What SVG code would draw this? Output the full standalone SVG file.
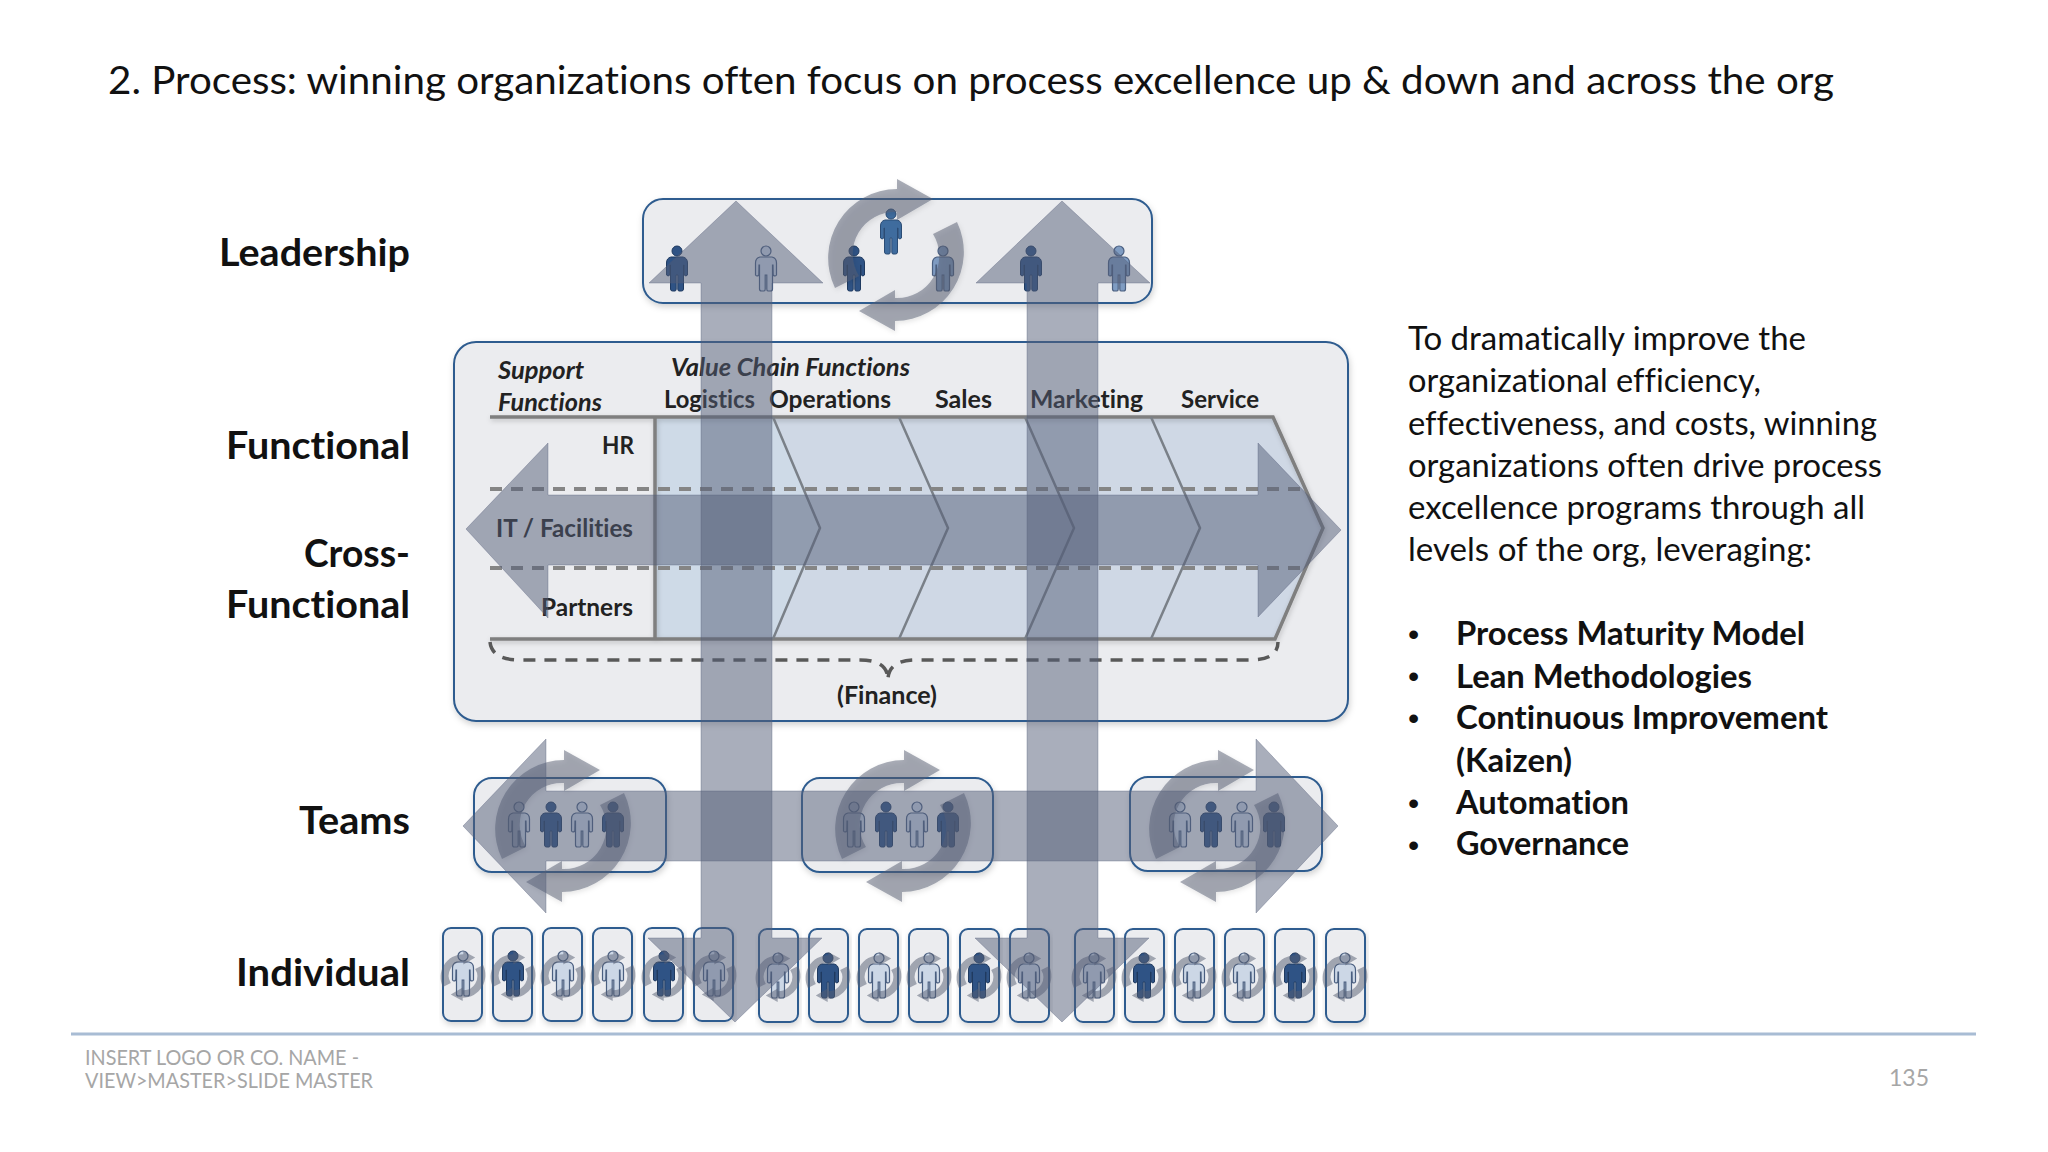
<svg xmlns="http://www.w3.org/2000/svg" xmlns:xlink="http://www.w3.org/1999/xlink" width="2048" height="1152" viewBox="0 0 2048 1152">
<style>
text{font-family:Lato,"Open Sans","Liberation Sans",sans-serif;fill:#111;font-variant-ligatures:none}
.title{font-size:39px}
.lab{font-size:38px;font-weight:700}
.para{font-size:32.5px}
.bul{font-size:32.5px;font-weight:700}
.dot{font-size:32px;font-family:"Liberation Sans",sans-serif}
.in{font-size:25px;font-weight:700;fill:#222}
.it{font-size:25px;font-weight:700;font-style:italic;fill:#222}
.foot{font-size:21px;fill:#a6a6a6}
.box{fill:#ebecef;stroke:#2f5c8f;stroke-width:2;filter:url(#sh)}
.mini{fill:#ebecef;fill-opacity:.9;stroke:#2f5c8f;stroke-width:2;filter:url(#sh)}
.arrow{fill:#535d78;fill-opacity:.5;stroke:#535d78;stroke-opacity:.35;stroke-width:1}
.cyc{fill:#565e72;fill-opacity:.5}
.s .cyc{fill:#5c6270;fill-opacity:.45}
.d{fill:#2f5385;stroke:#1f3a60;stroke-width:1}
.m{fill:#3f6c9e;stroke:#2b4c75;stroke-width:1}
.n{fill:#7f9cc2;stroke:#4a5f80;stroke-width:1.2}
.l{fill:#ccd7e6;stroke:#4a5f80;stroke-width:1.2}
.rule{fill:none;stroke:#7f7f7f;stroke-width:3.5;filter:url(#sc)}
.dash{fill:none;stroke:#858585;stroke-width:4;stroke-dasharray:12 9}
.thin{fill:none;stroke:#7a8088;stroke-width:2.5}
</style>
<defs>
<filter id="sh" x="-10%" y="-10%" width="120%" height="125%"><feDropShadow dx="1" dy="3" stdDeviation="3" flood-color="#000" flood-opacity=".18"/></filter>
<filter id="sc" x="-15%" y="-15%" width="130%" height="130%"><feDropShadow dx="1" dy="2" stdDeviation="2.5" flood-color="#000" flood-opacity=".2"/></filter>
<g id="person"><circle cx="0" cy="5" r="5"/><path d="M-6,11H6Q10.5,12 10.5,17V29Q9,31 7.2,29L7,19H6.5V43Q6.5,45 4.5,45H2Q.8,45 .8,43V29H-.8V43Q-.8,45 -2,45H-4.5Q-6.5,45 -6.5,43V19H-7L-7.2,29Q-9,31 -10.5,29V17Q-10.5,12 -6,11Z"/></g>
<g id="cycle"><path class="cyc" d="M-61,33A69,69 0 0 1 1,-66V-76L37,-56L1,-35V-43A42,42 0 0 0 -37,21Z"/><path class="cyc" d="M61,-33A69,69 0 0 1 -1,66V76L-37,56L-1,35V43A42,42 0 0 0 37,-21Z"/></g>
</defs>
<rect width="2048" height="1152" fill="#fff"/>
<text class="title" x="108" y="94" textLength="1726" lengthAdjust="spacingAndGlyphs">2. Process: winning organizations often focus on process excellence up &amp; down and across the org</text>

<g id="labels">
<text class="lab" x="219" y="266" textLength="191" lengthAdjust="spacingAndGlyphs">Leadership</text>
<text class="lab" x="226" y="459" textLength="184" lengthAdjust="spacingAndGlyphs">Functional</text>
<text class="lab" x="304" y="567" textLength="106" lengthAdjust="spacingAndGlyphs">Cross-</text>
<text class="lab" x="226" y="618" textLength="184" lengthAdjust="spacingAndGlyphs">Functional</text>
<text class="lab" x="299" y="834" textLength="111" lengthAdjust="spacingAndGlyphs">Teams</text>
<text class="lab" x="236" y="986" textLength="174" lengthAdjust="spacingAndGlyphs">Individual</text>
</g>

<g id="leadership">
<rect class="box" x="643" y="199" width="509" height="104" rx="20"/>
<use href="#person" transform="translate(677,246)" class="d"/>
<use href="#person" transform="translate(766,246)" class="l"/>
<use href="#person" transform="translate(854,246)" class="d"/>
<use href="#person" transform="translate(891,209)" class="m"/>
<use href="#person" transform="translate(943,246)" class="n"/>
<use href="#person" transform="translate(1031,246)" class="d"/>
<use href="#person" transform="translate(1119,246)" class="n"/>
<use href="#cycle" transform="translate(896,255)" filter="url(#sc)"/>
</g>

<g id="functional">
<rect class="box" x="454" y="342" width="894" height="379" rx="22"/>
<path d="M655,417H1273L1323,528L1275,639H655Z" fill="#cfd8e5"/>
<path d="M655,417H773L820,528L773,639H655Z" fill="#cedae7"/>
<path class="rule" d="M490,417H1273L1323,528L1275,639H490M655,417V639"/>
<path class="thin" d="M773,417L820,528L773,639M899,417L948,528L899,639M1025,417L1074,528L1025,639M1151,417L1200,528L1151,639"/>
<path class="dash" d="M490,489H1305M490,568H1305"/>
<path d="M490,642Q492,660 520,660H860Q888,660 888,680Q888,660 916,660H1250Q1278,660 1278,642" fill="none" stroke="#595959" stroke-width="3.5" stroke-dasharray="12 9"/>
<text class="it" x="498" y="379" textLength="86" lengthAdjust="spacingAndGlyphs">Support</text>
<text class="it" x="498" y="411" textLength="104" lengthAdjust="spacingAndGlyphs">Functions</text>
<text class="it" x="671" y="376" textLength="239" lengthAdjust="spacingAndGlyphs">Value Chain Functions</text>
<text class="in" x="664" y="408" textLength="91" lengthAdjust="spacingAndGlyphs">Logistics</text>
<text class="in" x="769" y="408" textLength="122" lengthAdjust="spacingAndGlyphs">Operations</text>
<text class="in" x="935" y="408" textLength="57" lengthAdjust="spacingAndGlyphs">Sales</text>
<text class="in" x="1030" y="408" textLength="113" lengthAdjust="spacingAndGlyphs">Marketing</text>
<text class="in" x="1181" y="408" textLength="78" lengthAdjust="spacingAndGlyphs">Service</text>
<text class="in" x="602" y="454" textLength="32" lengthAdjust="spacingAndGlyphs">HR</text>
<text class="in" x="496" y="537" textLength="137" lengthAdjust="spacingAndGlyphs">IT / Facilities</text>
<text class="in" x="541" y="616" textLength="92" lengthAdjust="spacingAndGlyphs">Partners</text>
<text class="in" x="837" y="704" textLength="100" lengthAdjust="spacingAndGlyphs">(Finance)</text>
</g>

<g id="team-1">
<rect class="box" x="474" y="778" width="192" height="94" rx="18"/>
<use href="#person" transform="translate(519,802)" class="l"/>
<use href="#person" transform="translate(551,802)" class="d"/>
<use href="#person" transform="translate(582,802)" class="l"/>
<use href="#person" transform="translate(613,802)" class="d"/>
<use href="#cycle" transform="translate(563,826)" filter="url(#sc)"/>
</g>
<g id="team-2">
<rect class="box" x="802" y="778" width="191" height="94" rx="18"/>
<use href="#person" transform="translate(854,802)" class="l"/>
<use href="#person" transform="translate(886,802)" class="d"/>
<use href="#person" transform="translate(917,802)" class="l"/>
<use href="#person" transform="translate(948,802)" class="d"/>
<use href="#cycle" transform="translate(903,826)" filter="url(#sc)"/>
</g>
<g id="team-3">
<rect class="box" x="1130" y="777" width="192" height="94" rx="18"/>
<use href="#person" transform="translate(1180,802)" class="l"/>
<use href="#person" transform="translate(1211,802)" class="d"/>
<use href="#person" transform="translate(1242,802)" class="l"/>
<use href="#person" transform="translate(1274,802)" class="d"/>
<use href="#cycle" transform="translate(1217,826)" filter="url(#sc)"/>
</g>

<g id="ind-1" class="s"><rect class="mini" x="443" y="928" width="39" height="93" rx="8"/><use href="#person" transform="translate(463,951)" class="l"/><use href="#cycle" transform="translate(463,976) scale(.33)"/></g>
<g id="ind-2" class="s"><rect class="mini" x="493" y="928" width="39" height="93" rx="8"/><use href="#person" transform="translate(513,951)" class="d"/><use href="#cycle" transform="translate(513,976) scale(.33)"/></g>
<g id="ind-3" class="s"><rect class="mini" x="543" y="928" width="39" height="93" rx="8"/><use href="#person" transform="translate(563,951)" class="l"/><use href="#cycle" transform="translate(563,976) scale(.33)"/></g>
<g id="ind-4" class="s"><rect class="mini" x="593" y="928" width="39" height="93" rx="8"/><use href="#person" transform="translate(613,951)" class="l"/><use href="#cycle" transform="translate(613,976) scale(.33)"/></g>
<g id="ind-5" class="s"><rect class="mini" x="644" y="928" width="39" height="93" rx="8"/><use href="#person" transform="translate(664,951)" class="d"/><use href="#cycle" transform="translate(664,976) scale(.33)"/></g>
<g id="ind-6" class="s"><rect class="mini" x="694" y="928" width="39" height="93" rx="8"/><use href="#person" transform="translate(714,951)" class="l"/><use href="#cycle" transform="translate(714,976) scale(.33)"/></g>
<g id="ind-7" class="s"><rect class="mini" x="759" y="929" width="39" height="93" rx="8"/><use href="#person" transform="translate(778,953)" class="l"/><use href="#cycle" transform="translate(778,977) scale(.33)"/></g>
<g id="ind-8" class="s"><rect class="mini" x="809" y="929" width="39" height="93" rx="8"/><use href="#person" transform="translate(828,953)" class="d"/><use href="#cycle" transform="translate(828,977) scale(.33)"/></g>
<g id="ind-9" class="s"><rect class="mini" x="859" y="929" width="39" height="93" rx="8"/><use href="#person" transform="translate(879,953)" class="l"/><use href="#cycle" transform="translate(879,977) scale(.33)"/></g>
<g id="ind-10" class="s"><rect class="mini" x="909" y="929" width="39" height="93" rx="8"/><use href="#person" transform="translate(929,953)" class="l"/><use href="#cycle" transform="translate(929,977) scale(.33)"/></g>
<g id="ind-11" class="s"><rect class="mini" x="960" y="929" width="39" height="93" rx="8"/><use href="#person" transform="translate(979,953)" class="d"/><use href="#cycle" transform="translate(979,977) scale(.33)"/></g>
<g id="ind-12" class="s"><rect class="mini" x="1010" y="929" width="39" height="93" rx="8"/><use href="#person" transform="translate(1029,953)" class="l"/><use href="#cycle" transform="translate(1029,977) scale(.33)"/></g>
<g id="ind-13" class="s"><rect class="mini" x="1075" y="929" width="39" height="93" rx="8"/><use href="#person" transform="translate(1094,953)" class="l"/><use href="#cycle" transform="translate(1094,977) scale(.33)"/></g>
<g id="ind-14" class="s"><rect class="mini" x="1125" y="929" width="39" height="93" rx="8"/><use href="#person" transform="translate(1144,953)" class="d"/><use href="#cycle" transform="translate(1144,977) scale(.33)"/></g>
<g id="ind-15" class="s"><rect class="mini" x="1175" y="929" width="39" height="93" rx="8"/><use href="#person" transform="translate(1194,953)" class="l"/><use href="#cycle" transform="translate(1194,977) scale(.33)"/></g>
<g id="ind-16" class="s"><rect class="mini" x="1225" y="929" width="39" height="93" rx="8"/><use href="#person" transform="translate(1244,953)" class="l"/><use href="#cycle" transform="translate(1244,977) scale(.33)"/></g>
<g id="ind-17" class="s"><rect class="mini" x="1275" y="929" width="39" height="93" rx="8"/><use href="#person" transform="translate(1295,953)" class="d"/><use href="#cycle" transform="translate(1295,977) scale(.33)"/></g>
<g id="ind-18" class="s"><rect class="mini" x="1326" y="929" width="39" height="93" rx="8"/><use href="#person" transform="translate(1345,953)" class="l"/><use href="#cycle" transform="translate(1345,977) scale(.33)"/></g>

<g id="connectors">
<path class="arrow" d="M736,201L823,283H772V938H822L735,1022L648,938H701V283H649Z"/>
<path class="arrow" d="M1062,201L1150,283H1098V938H1149L1062,1022L975,938H1027V283H976Z"/>
<path class="arrow" d="M466,529L548,443V495H1258V443L1341,530L1258,617V565H548V618Z"/>
<path class="arrow" d="M463,826L546,739V791H1256V739L1338,826L1256,913V861H546V913Z"/>
</g>

<g id="body-text">
<text class="para" x="1408" y="350" textLength="398" lengthAdjust="spacingAndGlyphs">To dramatically improve the</text>
<text class="para" x="1408" y="392" textLength="353" lengthAdjust="spacingAndGlyphs">organizational efficiency,</text>
<text class="para" x="1408" y="435" textLength="469" lengthAdjust="spacingAndGlyphs">effectiveness, and costs, winning</text>
<text class="para" x="1408" y="477" textLength="474" lengthAdjust="spacingAndGlyphs">organizations often drive process</text>
<text class="para" x="1408" y="519" textLength="457" lengthAdjust="spacingAndGlyphs">excellence programs through all</text>
<text class="para" x="1408" y="561" textLength="404" lengthAdjust="spacingAndGlyphs">levels of the org, leveraging:</text>
<text class="dot" x="1408" y="645">•</text>
<text class="dot" x="1408" y="687">•</text>
<text class="dot" x="1408" y="729">•</text>
<text class="dot" x="1408" y="814">•</text>
<text class="dot" x="1408" y="856">•</text>
<text class="bul" x="1456" y="645" textLength="349" lengthAdjust="spacingAndGlyphs">Process Maturity Model</text>
<text class="bul" x="1456" y="688" textLength="296" lengthAdjust="spacingAndGlyphs">Lean Methodologies</text>
<text class="bul" x="1456" y="729" textLength="372" lengthAdjust="spacingAndGlyphs">Continuous Improvement</text>
<text class="bul" x="1456" y="772" textLength="116" lengthAdjust="spacingAndGlyphs">(Kaizen)</text>
<text class="bul" x="1456" y="814" textLength="173" lengthAdjust="spacingAndGlyphs">Automation</text>
<text class="bul" x="1456" y="855" textLength="173" lengthAdjust="spacingAndGlyphs">Governance</text>
</g>

<g id="footer">
<line x1="71" y1="1034" x2="1976" y2="1034" stroke="#a8bcd4" stroke-width="3"/>
<text class="foot" x="85" y="1065" textLength="274" lengthAdjust="spacingAndGlyphs">INSERT LOGO OR CO. NAME -</text>
<text class="foot" x="85" y="1088" textLength="288" lengthAdjust="spacingAndGlyphs">VIEW&gt;MASTER&gt;SLIDE MASTER</text>
<text class="foot" x="1889" y="1086" style="font-size:23px" textLength="40">135</text>
</g>
</svg>
